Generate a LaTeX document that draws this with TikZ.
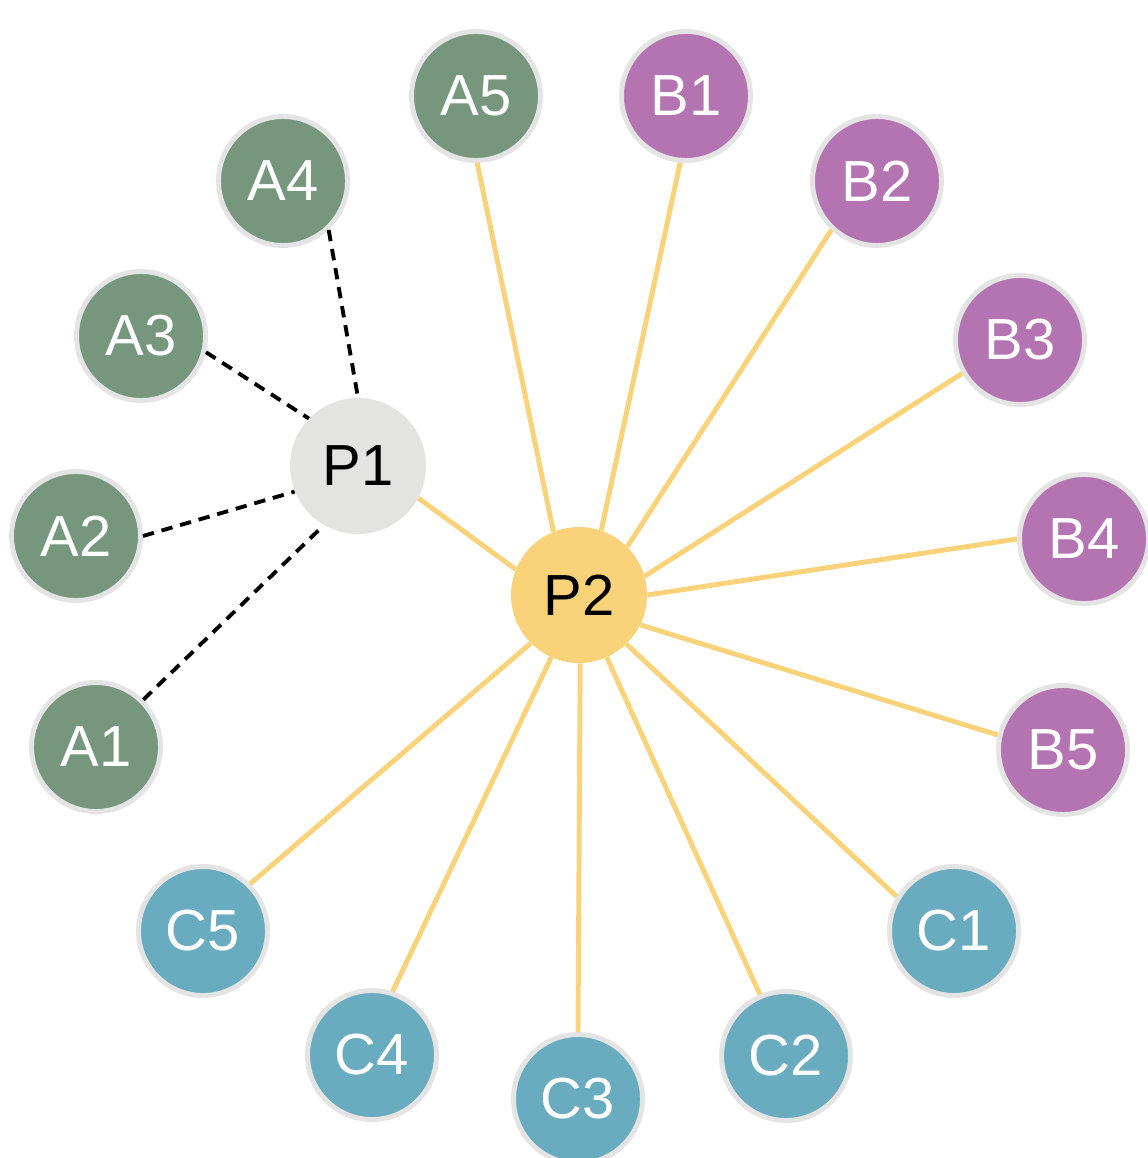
\documentclass[tikz,border=0pt]{standalone}
\usepackage{fontspec}
\setmainfont{Liberation Sans}
\usepackage{tikz}

\definecolor{groupA}{RGB}{118,151,126}
\definecolor{groupB}{RGB}{180,115,177}
\definecolor{groupC}{RGB}{106,172,191}
\definecolor{hubyellow}{RGB}{249,210,122}
\definecolor{hubgray}{RGB}{227,227,226}
\definecolor{rimgray}{RGB}{228,228,228}

\begin{document}
\begin{tikzpicture}[x=0.02cm,y=-0.02cm,
    leaf/.style={circle,draw=rimgray,line width=2.8pt,minimum size=2.58cm,inner sep=0pt,
        text=white,font=\fontsize{33}{36}\selectfont},
    hub/.style={circle,minimum size=2.72cm,inner sep=0pt,font=\fontsize{33}{36}\selectfont},
    link/.style={hubyellow,line width=2.8pt},
    dashlink/.style={black,line width=2.2pt,dash pattern=on 6.5pt off 4.5pt}]
    \useasboundingbox (0,0) rectangle (1147,1158);
    % the two hubs
    \node[hub,fill=hubgray] (P1) at (358,466) {P1};
    \node[hub,fill=hubyellow] (P2) at (579,595) {P2};
    % leaves round them
    \foreach \name/\x/\y in {A1/96/747,A2/76/536,A3/141/336,A4/283/181,A5/476/96} {%
        \node[leaf,fill=groupA] (\name) at (\x,\y) {\name};
    }
    \foreach \name/\x/\y in {B1/686/96,B2/877/181,B3/1020/340,B4/1084/539,B5/1063/750} {%
        \node[leaf,fill=groupB] (\name) at (\x,\y) {\name};
    }
    \foreach \name/\x/\y in {C1/954/931,C2/786/1056,C3/578/1099,C4/372/1055,C5/203/931} {%
        \node[leaf,fill=groupC] (\name) at (\x,\y) {\name};
    }
    % dashed links to P1
    \foreach \name/\a/\b in {A1/45/240,A2/0/202,A3/-14/136,A4/-47/90} {%
        \draw[dashlink] (\name.\a) -- (P1.\b);
    }
    % solid links to P2
    \draw[link] (P1.-28) -- (P2.158);
    \foreach \name/\a/\b in {A5/-89/112,B1/-95/71,B2/227/45,B3/210/16,B4/180/0,B5/167/-26,
        C1/149/-46,C2/113/-66,C3/90/-89,C4/72/-114,C5/45/-135} {%
        \draw[link] (\name.\a) -- (P2.\b);
    }
\end{tikzpicture}
\end{document}
